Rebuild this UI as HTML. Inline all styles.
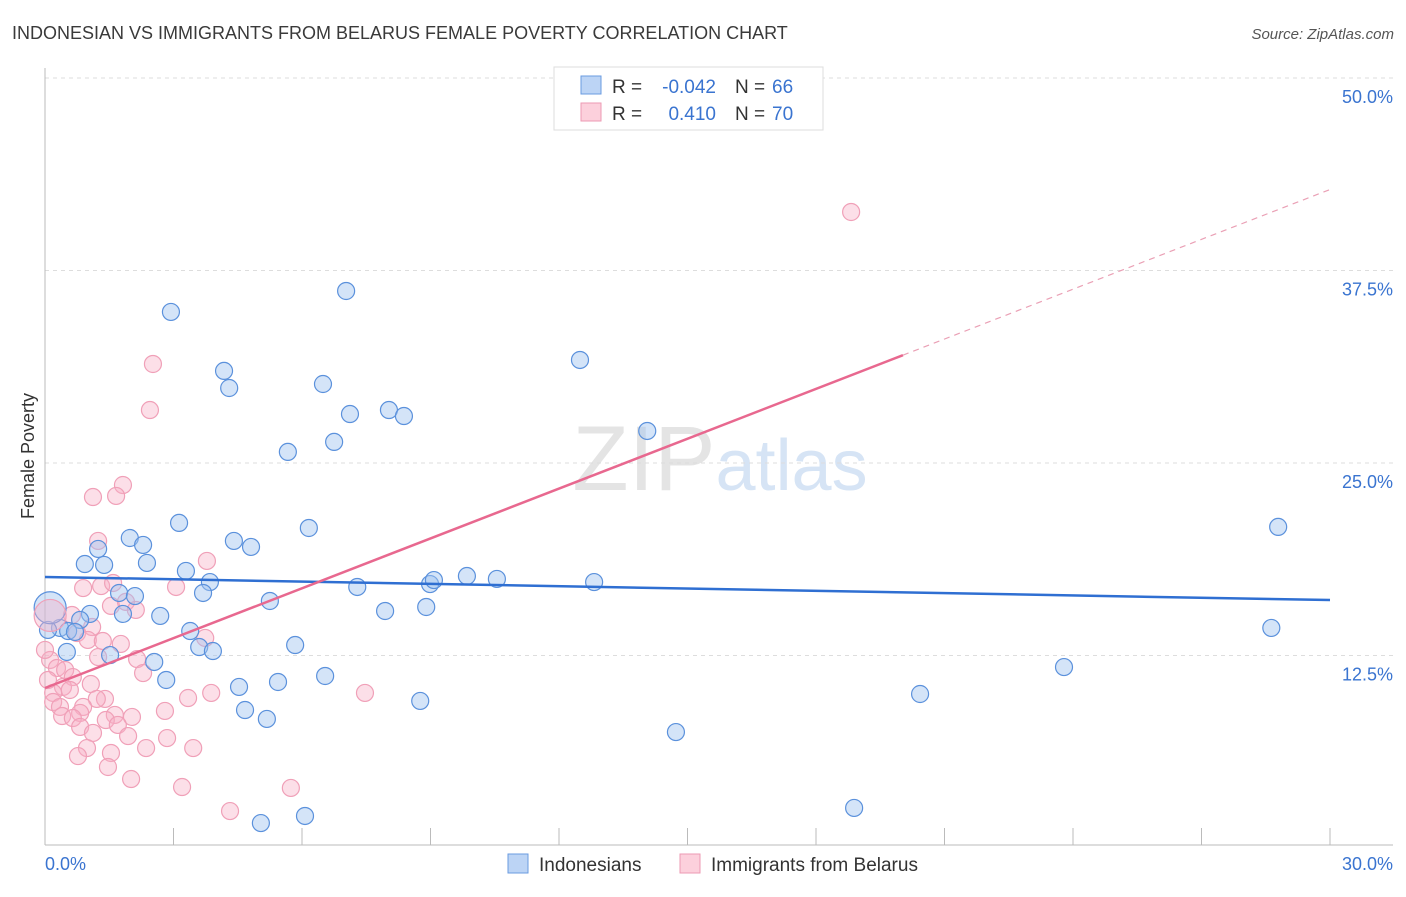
<!DOCTYPE html>
<html><head><meta charset="utf-8"><style>
body{margin:0;background:#fff;font-family:"Liberation Sans",sans-serif;}
svg text{font-family:"Liberation Sans",sans-serif;}
</style></head><body>
<svg id="chart" width="1406" height="892" xmlns="http://www.w3.org/2000/svg">
<text x="12" y="39" font-size="18" fill="#3a3a3a">INDONESIAN VS IMMIGRANTS FROM BELARUS FEMALE POVERTY CORRELATION CHART</text>
<text x="1394" y="39" font-size="15" fill="#555" text-anchor="end" font-style="italic">Source: ZipAtlas.com</text>
<text transform="translate(34,456) rotate(-90)" font-size="18" fill="#333" text-anchor="middle">Female Poverty</text>
<text x="720" y="490" font-size="92" fill="#e4e4e4" text-anchor="middle" font-family="Liberation Serif">ZIP<tspan fill="#d6e4f5" font-family="Liberation Sans" font-size="72">atlas</tspan></text>
<g id="grid"></g><g id="marks"></g><g id="lines"></g>
<g>
<rect x="554" y="67" width="269" height="63" fill="#fff" stroke="#ddd"/>
<rect x="581" y="76" width="20" height="18" fill="#bcd4f5" stroke="#6a9be0"/>
<rect x="581" y="103" width="20" height="18" fill="#fcd0dc" stroke="#ec9ab3"/>
<text x="612" y="93" font-size="19" fill="#333">R =</text>
<text x="716" y="93" font-size="19" fill="#3a74d0" text-anchor="end">-0.042</text>
<text x="735" y="93" font-size="19" fill="#333">N =</text>
<text x="772" y="93" font-size="19" fill="#3a74d0">66</text>
<text x="612" y="120" font-size="19" fill="#333">R =</text>
<text x="716" y="120" font-size="19" fill="#3a74d0" text-anchor="end">0.410</text>
<text x="735" y="120" font-size="19" fill="#333">N =</text>
<text x="772" y="120" font-size="19" fill="#3a74d0">70</text>
</g>
<g>
<rect x="508" y="854" width="20" height="19" fill="#bcd4f5" stroke="#6a9be0"/>
<text x="539" y="871" font-size="19" fill="#333">Indonesians</text>
<rect x="680" y="854" width="20" height="19" fill="#fcd0dc" stroke="#ec9ab3"/>
<text x="711" y="871" font-size="19" fill="#333">Immigrants from Belarus</text>
</g>
</svg>
<script>
const blueX=[2.94,7.03,4.18,4.30,6.49,7.12,8.03,8.38,12.49,14.06,5.67,6.75,3.13,6.16,1.98,2.29,1.24,4.41,4.81,0.93,1.38,2.38,3.29,3.85,3.69,1.73,2.10,5.25,1.05,1.82,2.69,0.82,0.35,0.07,0.54,0.70,3.39,3.60,3.92,5.84,0.51,1.52,2.55,2.83,4.53,5.44,6.54,4.67,5.18,8.76,7.29,7.94,8.90,8.99,9.08,9.85,10.55,12.82,23.79,20.43,14.73,18.89,5.04,6.07,28.79,28.63];
const blueY=[34.81,36.17,30.98,29.87,30.13,28.18,28.44,28.05,31.69,27.08,25.72,26.37,21.11,20.78,20.13,19.68,19.42,19.94,19.55,18.44,18.38,18.51,17.99,17.27,16.56,16.56,16.36,16.04,15.20,15.20,15.07,14.81,14.29,14.16,14.09,14.03,14.09,13.05,12.79,13.18,12.73,12.53,12.08,10.91,10.46,10.78,11.17,8.96,8.38,9.55,16.95,15.39,15.65,17.14,17.40,17.66,17.47,17.27,11.75,10.00,7.53,2.60,1.62,2.08,20.85,14.29];
const pinkX=[1.82,1.12,1.66,1.24,3.78,0.89,1.31,1.59,3.06,1.54,1.89,2.12,0.63,1.10,0.75,1.00,1.35,1.77,3.74,1.24,2.15,2.29,0.12,0.28,0.47,0.65,0.42,0.58,0.19,1.07,1.40,1.21,3.34,3.88,0.19,0.35,0.89,0.82,1.63,2.03,0.40,0.65,1.42,1.70,0.82,1.12,1.94,2.80,2.85,2.36,3.46,0.98,1.54,0.77,1.47,2.01,3.20,4.32,5.74,7.47,18.82,2.52,2.45,0.00,0.07];
const pinkY=[23.57,22.79,22.86,19.94,18.64,16.88,17.01,17.21,16.95,15.72,15.98,15.46,15.13,14.35,13.96,13.51,13.44,13.25,13.64,12.40,12.27,11.36,12.21,11.69,11.56,11.10,10.46,10.26,10.07,10.65,9.68,9.68,9.74,10.07,9.48,9.16,9.16,8.77,8.64,8.51,8.57,8.44,8.31,7.99,7.86,7.47,7.27,8.90,7.14,6.49,6.49,6.49,6.17,5.97,5.26,4.48,3.96,2.40,3.90,10.07,41.30,31.43,28.44,12.86,10.91];
const bigPoints=[[0.12,15.6,'blue'],[0.12,15.1,'pink']];
const blueTrend=[17.6,16.1];
const pinkTrend=[10.39,1.079,20.03];
const yTicks=[12.5,25,37.5,50];
const xTickVals=[3,6,9,12,15,18,21,24,27,30];

const NS='http://www.w3.org/2000/svg';
const X=v=>45+v/30*1285;
const Y=v=>848-v/50*770;
function mk(tag,attrs,parent){const e=document.createElementNS(NS,tag);for(const k in attrs)e.setAttribute(k,attrs[k]);parent.appendChild(e);return e;}
const grid=document.getElementById('grid'),marks=document.getElementById('marks'),lines=document.getElementById('lines');
yTicks.forEach(t=>{
 const l=mk('line',{x1:45,x2:1393,y1:Y(t),y2:Y(t),stroke:'#ddd','stroke-dasharray':'4,4'},grid);
 
 
 const tx=mk('text',{x:1393,y:Y(t)+25,'font-size':18,fill:'#3a74d0','text-anchor':'end'},grid);
 tx.textContent=t.toFixed(1)+'%';
 
 
});
const ax=mk('line',{x1:45,x2:1393,y1:845,y2:845,stroke:'#bbb'},grid);


const ay=mk('line',{x1:45,x2:45,y1:68,y2:845,stroke:'#bbb'},grid);


xTickVals.forEach(t=>{
 const l=mk('line',{x1:X(t),x2:X(t),y1:828,y2:845,stroke:'#bbb'},grid);
 
 
});
const x0=mk('text',{x:45,y:870,'font-size':18,fill:'#3a74d0'},grid);x0.textContent='0.0%';


const x1=mk('text',{x:1393,y:870,'font-size':18,fill:'#3a74d0','text-anchor':'end'},grid);x1.textContent='30.0%';


function dot(x,y,c,r){
 const blue=c==='blue';
 const e=mk('circle',{cx:X(x),cy:Y(y),r:r,fill:blue?'rgba(160,195,240,0.45)':'rgba(248,175,198,0.4)',stroke:blue?'#5b91dc':'#f0a0b8','stroke-width':1.2},marks);
 
 
}
pinkX.forEach((x,i)=>dot(x,pinkY[i],'pink',8.5));
blueX.forEach((x,i)=>dot(x,blueY[i],'blue',8.5));
bigPoints.forEach(p=>dot(p[0],p[1],p[2],16));
const bl=mk('line',{x1:X(0),y1:Y(blueTrend[0]),x2:X(30),y2:Y(blueTrend[1]),stroke:'#2f6fd2','stroke-width':2.5},lines);


const pl=mk('line',{x1:X(0),y1:Y(pinkTrend[0]),x2:X(pinkTrend[2]),y2:Y(pinkTrend[0]+pinkTrend[1]*pinkTrend[2]),stroke:'#e8688f','stroke-width':2.5},lines);


const pd=mk('line',{x1:X(pinkTrend[2]),y1:Y(pinkTrend[0]+pinkTrend[1]*pinkTrend[2]),x2:X(30),y2:Y(pinkTrend[0]+pinkTrend[1]*30),stroke:'#eaa0b5','stroke-width':1.2,'stroke-dasharray':'6,5'},lines);


</script>
</body></html>
